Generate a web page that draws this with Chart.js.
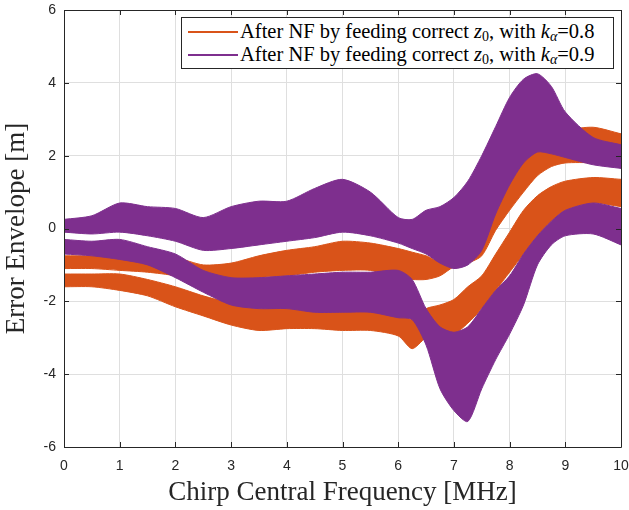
<!DOCTYPE html>
<html>
<head>
<meta charset="utf-8">
<script src="https://cdn.jsdelivr.net/npm/chart.js@4/dist/chart.umd.min.js"></script>
<style>
  html, body { margin:0; padding:0; background:#fff; }
  #wrap { position:relative; width:629px; height:510px; }
  #legend { position:absolute; left:181px; top:17px; width:431px; height:50px; border:1px solid #262626; background:#fff;
            font-family:"Liberation Serif","DejaVu Serif",serif; font-size:20.5px; color:#000; }
  .row { position:absolute; left:0; height:22px; line-height:22px; white-space:nowrap; }
  .sw { position:absolute; left:6px; top:11px; width:50px; height:0; border-top:2px solid; }
  .tx { position:absolute; left:58px; top:0; }
  sub { font-size:14px; vertical-align:-3px; line-height:0; }
</style>
</head>
<body>
<div id="wrap">
<canvas id="c" width="629" height="510"></canvas>
<div id="legend">
  <div class="row" style="top:2px"><span class="sw" style="border-color:#D95319"></span><span class="tx">After NF by feeding correct <i>z</i><sub>0</sub>, with <i>k</i><sub><i>α</i></sub>=0.8</span></div>
  <div class="row" style="top:25px"><span class="sw" style="border-color:#7E2F8E"></span><span class="tx">After NF by feeding correct <i>z</i><sub>0</sub>, with <i>k</i><sub><i>α</i></sub>=0.9</span></div>
</div>
</div>
<script>
// Chirp central frequency [MHz] sample positions
const freq = [0,0.5,1,1.5,2,2.5,3,3.5,4,4.5,5,5.5,6,6.25,6.5,6.75,7,7.25,7.5,7.75,8,8.25,8.5,8.75,9,9.5,10];

// k_alpha = 0.9 (purple): upper envelope band (top / bottom edges)
const purpleUpperTop = [0.25,0.35,0.7,0.6,0.55,0.3,0.6,0.75,0.75,1.1,1.35,1.0,0.3,0.25,0.5,0.6,0.85,1.3,2.0,2.8,3.6,4.1,4.25,3.9,3.2,2.5,2.3];
const purpleUpperBot = [-0.1,-0.15,-0.1,-0.2,-0.35,-0.6,-0.55,-0.45,-0.35,-0.25,-0.1,-0.2,-0.4,-0.55,-0.7,-0.95,-1.1,-1.0,-0.6,0.4,1.2,1.8,2.1,2.05,1.95,1.75,1.65];
// k_alpha = 0.9 (purple): lower envelope band
const purpleLowerTop = [-0.3,-0.35,-0.3,-0.5,-0.7,-1.15,-1.35,-1.35,-1.3,-1.25,-1.2,-1.2,-1.15,-1.4,-2.2,-2.7,-2.85,-2.7,-2.2,-1.7,-1.3,-0.7,-0.2,0.2,0.5,0.7,0.55];
const purpleLowerBot = [-0.7,-0.75,-0.85,-1.0,-1.35,-1.75,-2.1,-2.2,-2.2,-2.3,-2.3,-2.3,-2.45,-2.5,-3.2,-4.4,-5.0,-5.3,-4.4,-3.6,-2.9,-2.1,-1.0,-0.45,-0.2,-0.15,-0.45];
// k_alpha = 0.8 (orange): upper envelope band
const orangeUpperTop = [-0.75,-0.75,-0.75,-0.8,-0.8,-1.0,-0.95,-0.75,-0.6,-0.5,-0.35,-0.4,-0.55,-0.65,-0.75,-0.9,-0.6,-0.45,-0.1,1.0,1.6,2.1,2.4,2.6,2.7,2.78,2.6];
const orangeUpperBot = [-1.1,-1.1,-1.15,-1.2,-1.3,-1.5,-1.45,-1.35,-1.3,-1.2,-1.15,-1.15,-1.35,-1.4,-1.4,-1.3,-1.05,-0.95,-0.75,-0.05,0.5,1.0,1.45,1.7,1.8,1.8,1.7];
// k_alpha = 0.8 (orange): lower envelope band
const orangeLowerTop = [-1.25,-1.25,-1.25,-1.4,-1.6,-1.85,-2.05,-2.2,-2.1,-2.1,-2.1,-2.15,-2.3,-2.5,-2.2,-2.1,-1.95,-1.6,-1.3,-0.7,-0.1,0.5,0.9,1.15,1.3,1.4,1.35];
const orangeLowerBot = [-1.6,-1.6,-1.7,-1.85,-2.15,-2.4,-2.65,-2.8,-2.75,-2.75,-2.8,-2.8,-2.95,-3.3,-3.0,-2.9,-2.9,-2.6,-2.2,-1.7,-1.2,-0.7,-0.2,0.2,0.5,0.7,0.6];

const xTicks = [0,1,2,3,4,5,6,7,8,9,10];
const yTicks = [-6,-4,-2,0,2,4,6];

const ORANGE = '#D95319', PURPLE = '#7E2F8E';
const pts = arr => arr.map((v,i) => ({x: freq[i], y: v}));
function band(top, bot, color) {
  return [
    {data: pts(top), borderColor: color, backgroundColor: color, borderWidth: 1, pointRadius: 0, fill: false, tension: 0.25},
    {data: pts(bot), borderColor: color, backgroundColor: color, borderWidth: 1, pointRadius: 0, fill: '-1', tension: 0.25}
  ];
}
// first datasets are painted last (on top): purple above orange
const datasets = [
  ...band(purpleUpperTop, purpleUpperBot, PURPLE),
  ...band(purpleLowerTop, purpleLowerBot, PURPLE),
  ...band(orangeUpperTop, orangeUpperBot, ORANGE),
  ...band(orangeLowerTop, orangeLowerBot, ORANGE)
];

const AX = '#262626';
const frame = {
  id: 'frame',
  afterDatasetsDraw(chart) {
    const {ctx, chartArea: a, scales: {x, y}} = chart;
    ctx.save();
    ctx.strokeStyle = AX; ctx.lineWidth = 1;
    ctx.beginPath();
    ctx.rect(Math.round(a.left)+0.5, Math.round(a.top)+0.5, Math.round(a.right-a.left), Math.round(a.bottom-a.top));
    const L = 5;
    xTicks.forEach(t => { const px = Math.round(x.getPixelForValue(t))+0.5;
      ctx.moveTo(px, a.bottom); ctx.lineTo(px, a.bottom - L);
      ctx.moveTo(px, a.top); ctx.lineTo(px, a.top + L); });
    yTicks.forEach(t => { const py = Math.round(y.getPixelForValue(t))+0.5;
      ctx.moveTo(a.left, py); ctx.lineTo(a.left + L, py);
      ctx.moveTo(a.right, py); ctx.lineTo(a.right - L, py); });
    ctx.stroke();
    ctx.restore();
  }
};

new Chart(document.getElementById('c'), {
  type: 'line',
  data: { datasets },
  options: {
    responsive: false, animation: false, devicePixelRatio: 1,
    layout: { padding: { top: 10, right: 8, left: 0, bottom: 0 } },
    plugins: { legend: { display: false }, tooltip: { enabled: false } },
    scales: {
      x: {
        type: 'linear', min: 0, max: 10,
        afterBuildTicks: s => { s.ticks = xTicks.map(v => ({value: v})); },
        afterFit: s => { s.height = 63; s.paddingLeft = 0; s.paddingRight = 0; },
        grid: { color: '#dfdfdf', drawTicks: false },
        border: { display: false },
        ticks: { color: AX, font: { family: 'Liberation Sans', size: 14 }, padding: 11, maxRotation: 0 },
        title: { display: true, text: 'Chirp Central Frequency [MHz]', color: AX,
                 font: { family: 'Liberation Serif', size: 27 }, padding: { top: 0, bottom: 1 } }
      },
      y: {
        type: 'linear', min: -6, max: 6,
        afterBuildTicks: s => { s.ticks = yTicks.map(v => ({value: v})); },
        afterFit: s => { s.width = 64; s.paddingTop = 0; s.paddingBottom = 0; },
        grid: { color: '#dfdfdf', drawTicks: false },
        border: { display: false },
        ticks: { color: AX, font: { family: 'Liberation Sans', size: 14 }, padding: 8 },
        title: { display: true, text: 'Error Envelope [m]', color: AX,
                 font: { family: 'Liberation Serif', size: 27 }, padding: { top: 1, bottom: 0 } }
      }
    }
  },
  plugins: [frame]
});
</script>
</body>
</html>
